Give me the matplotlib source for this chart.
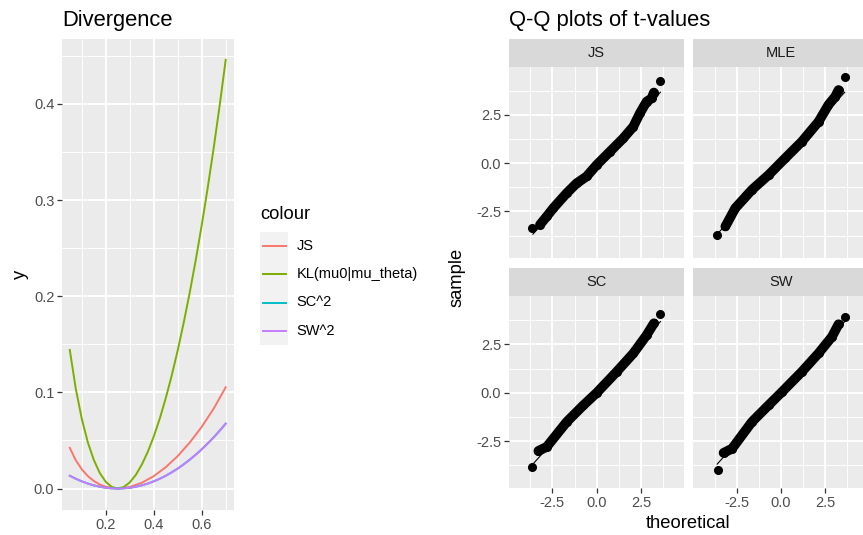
import numpy as np
import matplotlib
matplotlib.use("Agg")
import matplotlib.pyplot as plt
from matplotlib.patches import Rectangle
from matplotlib.lines import Line2D
from matplotlib.ticker import FormatStrFormatter

plt.rcParams['font.family'] = ['Liberation Sans', 'DejaVu Sans']
plt.rcParams['axes.unicode_minus'] = False

# ======================
# DATA : divergence curves
# ======================
mu = [0.05, 0.075, 0.10, 0.125, 0.15, 0.175, 0.20, 0.225, 0.25, 0.275, 0.30, 0.325, 0.35, 0.375,
      0.40, 0.425, 0.45, 0.475, 0.50, 0.525, 0.55, 0.575, 0.60, 0.625, 0.65, 0.675, 0.70]
kl_vals = [0.1441, 0.1037, 0.0725, 0.0482, 0.0298, 0.0162, 0.0070, 0.0017, 0.0, 0.0016, 0.0064,
           0.0141, 0.0248, 0.0381, 0.0541, 0.0727, 0.0939, 0.1176, 0.1438, 0.1726, 0.2038, 0.2375,
           0.2739, 0.3128, 0.3543, 0.3987, 0.4458]
sc2_vals = [0.0133, 0.0102, 0.0075, 0.0052, 0.0033, 0.0019, 0.0008, 0.0002, 0.0, 0.0002, 0.0008,
            0.0019, 0.0033, 0.0052, 0.0075, 0.0102, 0.0133, 0.0169, 0.0208, 0.0252, 0.0300, 0.0352,
            0.0408, 0.0469, 0.0533, 0.0602, 0.0675]
sw2_vals = [0.0133, 0.0102, 0.0075, 0.0052, 0.0033, 0.0019, 0.0008, 0.0002, 0.0, 0.0002, 0.0008,
            0.0019, 0.0033, 0.0052, 0.0075, 0.0102, 0.0133, 0.0169, 0.0208, 0.0252, 0.0300, 0.0352,
            0.0408, 0.0469, 0.0533, 0.0602, 0.0675]

mu_js = [0.05, 0.075, 0.10, 0.125, 0.15, 0.175, 0.20, 0.25, 0.30, 0.35, 0.40, 0.45, 0.50, 0.55,
         0.60, 0.65, 0.70]
js_vals = [0.0423, 0.0294, 0.0200, 0.0130, 0.0079, 0.0042, 0.0018, 0.0, 0.0016, 0.0060, 0.0129,
           0.0222, 0.0338, 0.0478, 0.0642, 0.0832, 0.1053]

div_labels = ["JS", "KL(mu0|mu_theta)", "SC^2", "SW^2"]
div_colors = ["#F8766D", "#7CAE00", "#00BFC4", "#C77CFF"]

# ======================
# DATA : Q-Q plots (theoretical, sample) read along the band of points
# ======================
facets = ["JS", "MLE", "SC", "SW"]
qq_theo = {
    "JS":  [-3.67, -3.20, -2.82, -2.45, -1.69, -1.13, -0.57, 0.00, 0.75, 1.50, 2.07, 2.44, 2.82, 3.10, 3.23, 3.57],
    "MLE": [-3.61, -3.14, -2.58, -1.64, -0.70, 0.24, 1.18, 2.12, 2.68, 3.06, 3.25, 3.63],
    "SC":  [-3.63, -3.29, -2.82, -1.69, -0.75, 0.00, 1.13, 2.07, 2.82, 3.23, 3.57],
    "SW":  [-3.58, -3.24, -2.76, -1.64, -0.70, 0.06, 1.18, 2.12, 2.88, 3.25, 3.63],
}
qq_sample = {
    "JS":  [-3.36, -3.19, -2.76, -2.33, -1.55, -1.04, -0.69, -0.09, 0.60, 1.29, 1.90, 2.59, 3.19, 3.36, 3.66, 4.27],
    "MLE": [-3.71, -3.28, -2.33, -1.38, -0.61, 0.26, 1.12, 2.15, 3.02, 3.45, 3.79, 4.48],
    "SC":  [-3.83, -3.00, -2.79, -1.50, -0.64, 0.00, 1.09, 2.04, 2.98, 3.59, 4.07],
    "SW":  [-4.00, -3.10, -2.88, -1.50, -0.64, 0.05, 1.09, 2.04, 2.90, 3.54, 3.93],
}
qq_line_x = [-3.6, 3.6]
qq_line_y = [-3.68, 3.68]

# ======================
# FIGURE
# ======================
W, H = 863, 535
fig = plt.figure(figsize=(W / 100, H / 100), dpi=100)


def add_px(x0, y0, x1, y1):
    return fig.add_axes([x0 / W, 1 - y1 / H, (x1 - x0) / W, (y1 - y0) / H])


def gg_style(ax):
    ax.set_facecolor('#EBEBEB')
    for s in ax.spines.values():
        s.set_visible(False)
    ax.grid(which='major', color='white', lw=1.3)
    ax.grid(which='minor', color='white', lw=0.65)
    ax.set_axisbelow(True)
    ax.tick_params(which='major', length=3.3, width=0.9, color='#333333',
                   labelcolor='#4D4D4D', labelsize=10.5, pad=2.2)
    ax.tick_params(which='minor', length=0)


# ---------- left : divergence ----------
ax = add_px(62, 38.5, 233.5, 510)
gg_style(ax)
ax.plot(mu_js, js_vals, color=div_colors[0], lw=1.4)
ax.plot(mu, kl_vals, color=div_colors[1], lw=1.4)
ax.plot(mu, sc2_vals, color=div_colors[2], lw=1.4)
ax.plot(mu, sw2_vals, color=div_colors[3], lw=1.4)
ax.set_xlim(0.0175, 0.7325)
ax.set_ylim(-0.0223, 0.468)
ax.set_xticks([0.2, 0.4, 0.6])
ax.set_xticks([0.1, 0.3, 0.5, 0.7], minor=True)
ax.set_yticks([0.0, 0.1, 0.2, 0.3, 0.4])
ax.set_yticks([0.05, 0.15, 0.25, 0.35, 0.45], minor=True)
ax.xaxis.set_major_formatter(FormatStrFormatter('%.1f'))
ax.yaxis.set_major_formatter(FormatStrFormatter('%.1f'))
fig.text(62 / W, 1 - 26 / H, "Divergence", fontsize=15.8, va='baseline', ha='left')
fig.text(20 / W, 1 - 274 / H, "y", fontsize=13.2, rotation=90, ha='center', va='center')

# legend
fig.text(260 / W, 1 - 215 / H, "colour", fontsize=13.2, ha='left', va='center')
key_h = 28.4
for i, (lab, col) in enumerate(zip(div_labels, div_colors)):
    top = 231.5 + i * key_h
    fig.patches.append(Rectangle((260 / W, 1 - (top + key_h) / H), 28.3 / W, key_h / H,
                                 transform=fig.transFigure, facecolor='#F2F2F2', edgecolor='none'))
    yc = 1 - (top + key_h / 2) / H
    fig.lines.append(Line2D([262.7 / W, 285.7 / W], [yc, yc], transform=fig.transFigure,
                            color=col, lw=1.4))
    fig.text(296.7 / W, yc, lab, fontsize=10.5, ha='left', va='center')

# ---------- right : Q-Q facets ----------
fig.text(509 / W, 1 - 26 / H, "Q-Q plots of t-values", fontsize=15.8, va='baseline', ha='left')
cols = [(509, 684), (693.3, 868.3)]
rows = [(39.3, 66.7, 258.3), (268.3, 296, 488.3)]

for k, name in enumerate(facets):
    r, c = divmod(k, 2)
    x0, x1 = cols[c]
    s0, p0, p1 = rows[r]
    strip = add_px(x0, s0, x1, p0)
    strip.set_facecolor('#D9D9D9')
    strip.set_xticks([])
    strip.set_yticks([])
    for s in strip.spines.values():
        s.set_visible(False)
    strip.text(0.5, 0.5, name, transform=strip.transAxes, ha='center', va='center',
               fontsize=10.5, color='#1A1A1A')

    a = add_px(x0, p0, x1, p1)
    gg_style(a)
    t = qq_theo[name]
    smp = qq_sample[name]
    a.plot(qq_line_x, qq_line_y, color='black', lw=0.8)
    a.plot(t[1:-1], smp[1:-1], color='black', lw=7, solid_capstyle='round', solid_joinstyle='round')
    a.plot(t, smp, 'o', color='black', markersize=5.5, linestyle='none')
    a.set_xlim(-4.95, 4.93)
    a.set_ylim(-4.93, 5.0)
    a.set_xticks([-2.5, 0.0, 2.5])
    a.set_xticks([-3.75, -1.25, 1.25, 3.75], minor=True)
    a.set_yticks([-2.5, 0.0, 2.5])
    a.set_yticks([-3.75, -1.25, 1.25, 3.75], minor=True)
    a.xaxis.set_major_formatter(FormatStrFormatter('%.1f'))
    a.yaxis.set_major_formatter(FormatStrFormatter('%.1f'))
    if r == 0:
        a.tick_params(axis='x', which='major', length=0, labelbottom=False)
    if c == 1:
        a.tick_params(axis='y', which='major', length=0, labelleft=False)

fig.text(456.7 / W, 1 - 277.5 / H, "sample", fontsize=13.2, rotation=90, ha='center', va='center')
fig.text(688.5 / W, 1 - 523 / H, "theoretical", fontsize=13.2, ha='center', va='center')

fig.savefig("out.png", dpi=100, facecolor='white')
